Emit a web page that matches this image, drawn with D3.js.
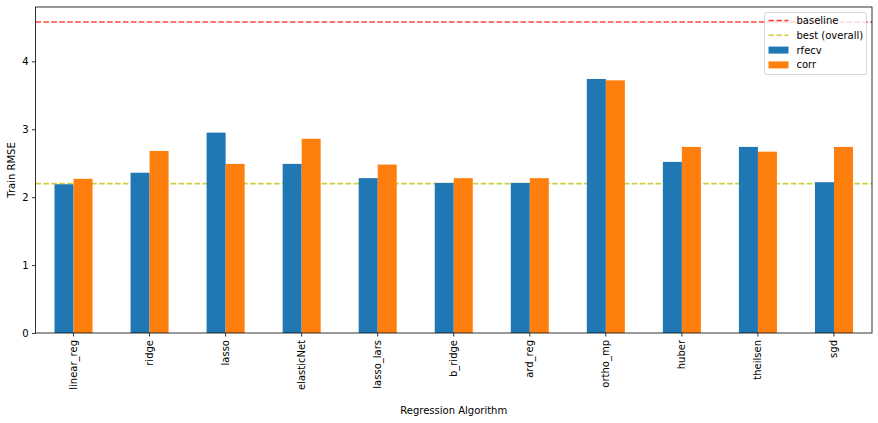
<!DOCTYPE html>
<html>
<head>
<meta charset="utf-8">
<script src="https://cdn.jsdelivr.net/npm/d3@7"></script>
<style>
  body { margin: 0; background: #fff; }
  svg { font-family: "DejaVu Sans", sans-serif; }
</style>
</head>
<body>
<svg id="chart" width="878" height="423"></svg>
<script>
const algorithms = ["linear_reg", "ridge", "lasso", "elasticNet", "lasso_lars", "b_ridge",
                    "ard_reg", "ortho_mp", "huber", "theilsen", "sgd"];
const rfecv = [2.19, 2.36, 2.95, 2.49, 2.28, 2.21, 2.21, 3.74, 2.52, 2.74, 2.22];
const corr  = [2.27, 2.68, 2.49, 2.86, 2.48, 2.28, 2.28, 3.72, 2.74, 2.67, 2.74];
const baseline = 4.58;
const bestOverall = 2.20;
const yTicks = [0, 1, 2, 3, 4];
const seriesNames = ["rfecv", "corr"];

const data = algorithms.map((a, i) => ({ algo: a, rfecv: rfecv[i], corr: corr[i] }));

const svg = d3.select("#chart"),
      margin = {top: 7, right: 6, bottom: 90, left: 35.5},
      width = 878 - margin.left - margin.right,
      height = 423 - margin.top - margin.bottom,
      g = svg.append("g").attr("transform", `translate(${margin.left},${margin.top})`);

const color = d3.scaleOrdinal().domain(seriesNames).range(["#1f77b4", "#ff7f0e"]);

const x0 = d3.scaleBand().domain(algorithms).range([0, width]).paddingInner(0.5).paddingOuter(0.25);
const x1 = d3.scaleBand().domain(seriesNames).range([0, x0.bandwidth()]);
const y = d3.scaleLinear().domain([0, 4.8]).range([height, 0]);

// reference lines (drawn first, bars go over them)
const refLines = [
  { name: "baseline", value: baseline, stroke: "#ff0000" },
  { name: "best (overall)", value: bestOverall, stroke: "#bfbf00" }
];
g.selectAll(".ref")
  .data(refLines)
  .join("line")
    .attr("class", "ref")
    .attr("x1", 0).attr("x2", width)
    .attr("y1", d => y(d.value)).attr("y2", d => y(d.value))
    .attr("stroke", d => d.stroke)
    .attr("stroke-opacity", 0.75)
    .attr("stroke-width", 1.6)
    .attr("stroke-dasharray", "5.55,2.4");

// bars
g.append("g")
  .selectAll("g")
  .data(data)
  .join("g")
    .attr("transform", d => `translate(${x0(d.algo)},0)`)
  .selectAll("rect")
  .data(d => seriesNames.map(s => ({ key: s, value: d[s] })))
  .join("rect")
    .attr("x", d => x1(d.key))
    .attr("y", d => y(d.value))
    .attr("width", x1.bandwidth())
    .attr("height", d => height - y(d.value))
    .attr("fill", d => color(d.key));

// axes
const yAxis = g.append("g")
  .call(d3.axisLeft(y).tickValues(yTicks).tickFormat(d3.format("d")).tickSize(3.5).tickPadding(3.5));
const xAxis = g.append("g")
  .attr("transform", `translate(0,${height})`)
  .call(d3.axisBottom(x0).tickSize(3.5).tickPadding(3.5));

[xAxis, yAxis].forEach(a => {
  a.select(".domain").remove();
  a.selectAll("line").attr("stroke", "#000").attr("stroke-width", 0.8);
  a.selectAll("text").attr("font-size", "10px").attr("fill", "#000")
    .attr("font-family", "DejaVu Sans, sans-serif");
});

xAxis.selectAll("text")
  .attr("transform", "rotate(-90)")
  .attr("text-anchor", "end")
  .attr("x", -7)
  .attr("y", 0)
  .attr("dy", "0.35em");

// frame
g.append("rect")
  .attr("width", width).attr("height", height)
  .attr("fill", "none").attr("stroke", "#000").attr("stroke-width", 0.8);

// axis labels
svg.append("text")
  .attr("x", margin.left + width / 2)
  .attr("y", 414)
  .attr("text-anchor", "middle")
  .attr("font-size", "10px")
  .text("Regression Algorithm");

svg.append("text")
  .attr("transform", `translate(15,${margin.top + height / 2}) rotate(-90)`)
  .attr("text-anchor", "middle")
  .attr("font-size", "10px")
  .text("Train RMSE");

// legend
const legend = svg.append("g").attr("transform", "translate(764.5,12.5)");
legend.append("rect")
  .attr("width", 102).attr("height", 62).attr("rx", 2)
  .attr("fill", "#fff").attr("fill-opacity", 0.8)
  .attr("stroke", "#ccc").attr("stroke-width", 0.8);

const legendItems = [
  { label: "baseline", type: "line", c: "#ff0000" },
  { label: "best (overall)", type: "line", c: "#bfbf00" },
  { label: "rfecv", type: "rect", c: color("rfecv") },
  { label: "corr", type: "rect", c: color("corr") }
];
const li = legend.selectAll(".item")
  .data(legendItems)
  .join("g")
    .attr("class", "item")
    .attr("transform", (d, i) => `translate(4,${8 + i * 14.8})`);

li.filter(d => d.type === "line").append("line")
  .attr("x1", 0).attr("x2", 20)
  .attr("stroke", d => d.c).attr("stroke-opacity", 0.75)
  .attr("stroke-width", 1.6).attr("stroke-dasharray", "5.55,2.4");
li.filter(d => d.type === "rect").append("rect")
  .attr("x", 0).attr("y", -3.5).attr("width", 20).attr("height", 7)
  .attr("fill", d => d.c);
li.append("text")
  .attr("x", 28).attr("y", 0).attr("dy", "0.35em")
  .attr("font-size", "10px")
  .text(d => d.label);
</script>
</body>
</html>
